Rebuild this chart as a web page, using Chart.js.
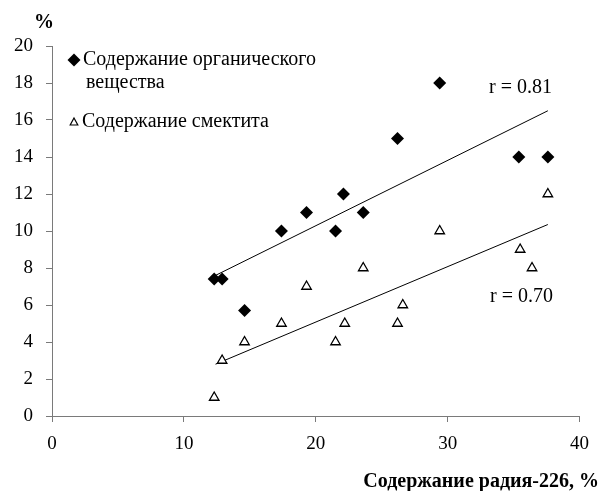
<!DOCTYPE html>
<html>
<head>
<meta charset="utf-8">
<script src="https://cdn.jsdelivr.net/npm/chart.js@4/dist/chart.umd.min.js"></script>
<style>
  html, body { margin: 0; padding: 0; background: #fff; }
  #wrap { width: 600px; height: 491px; position: relative; }
</style>
</head>
<body>
<div id="wrap"><canvas id="chart"></canvas></div>
<script>
// Radium-226 content (x) vs organic matter / smectite content (y)
const organicX = [12.3, 12.9, 14.6, 17.4, 19.3, 21.5, 22.1, 23.6, 26.2, 29.4, 35.4, 37.6];
const organicY = [7.4, 7.4, 5.7, 10, 11, 10, 12, 11, 15, 18, 14, 14];
const smectiteX = [12.3, 12.9, 14.6, 17.4, 19.3, 21.5, 22.2, 23.6, 26.2, 26.6, 29.4, 35.5, 36.4, 37.6];
const smectiteY = [1, 3, 4, 5, 7, 4, 5, 8, 5, 6, 10, 9, 8, 12];

// trend line endpoints
const trendX = [12.4, 37.6];
const organicTrendY = [7.6, 16.5];
const smectiteTrendY = [2.8, 10.35];

const legendLabels = ['Содержание органического', 'вещества', 'Содержание смектита'];
const rLabels = ['r = 0.81', 'r = 0.70'];
const xTitle = 'Содержание радия-226, %';
const yTitle = '%';

const FONT = '"Liberation Serif", "Times New Roman", serif';
const AXIS_COLOR = '#7a7a7a';

const toPoints = (xs, ys) => xs.map((x, i) => ({ x: x, y: ys[i] }));

// texts drawn on top: legend, r values, axis titles
const annotations = {
    id: 'annotations',
    afterDraw(chart) {
        const ctx = chart.ctx;
        ctx.save();
        ctx.fillStyle = '#000';
        ctx.textBaseline = 'middle';

        // legend markers
        ctx.beginPath();
        ctx.moveTo(74, 53.5);
        ctx.lineTo(80.5, 60);
        ctx.lineTo(74, 66.5);
        ctx.lineTo(67.5, 60);
        ctx.closePath();
        ctx.fill();

        ctx.beginPath();
        ctx.moveTo(74, 118);
        ctx.lineTo(77.8, 125);
        ctx.lineTo(70.2, 125);
        ctx.closePath();
        ctx.fillStyle = '#fff';
        ctx.fill();
        ctx.strokeStyle = '#000';
        ctx.lineWidth = 1.2;
        ctx.stroke();

        ctx.fillStyle = '#000';
        ctx.font = '20px ' + FONT;
        ctx.textAlign = 'left';
        ctx.fillText(legendLabels[0], 83, 60);
        ctx.fillText(legendLabels[1], 86, 83);
        ctx.fillText(legendLabels[2], 82, 122);

        ctx.fillText(rLabels[0], 489, 88);
        ctx.fillText(rLabels[1], 490, 297);

        ctx.font = 'bold 20px ' + FONT;
        ctx.textAlign = 'center';
        ctx.fillText(yTitle, 44, 23);
        ctx.textAlign = 'right';
        ctx.fillText(xTitle, 599, 482);
        ctx.restore();
    }
};

new Chart(document.getElementById('chart').getContext('2d'), {
    type: 'scatter',
    data: {
        datasets: [
            {
                label: legendLabels[0],
                data: toPoints(organicX, organicY),
                pointStyle: 'rectRot',
                pointRadius: 6.5,
                backgroundColor: '#000',
                borderColor: '#000',
                borderWidth: 0,
                order: 0
            },
            {
                label: legendLabels[2],
                data: toPoints(smectiteX, smectiteY),
                pointStyle: 'triangle',
                pointRadius: 5.5,
                backgroundColor: '#fff',
                borderColor: '#000',
                borderWidth: 1.3,
                order: 0
            },
            {
                label: 'trend organic',
                data: toPoints(trendX, organicTrendY),
                showLine: true,
                pointRadius: 0,
                borderColor: '#000',
                borderWidth: 1,
                order: 1
            },
            {
                label: 'trend smectite',
                data: toPoints(trendX, smectiteTrendY),
                showLine: true,
                pointRadius: 0,
                borderColor: '#000',
                borderWidth: 1,
                order: 1
            }
        ]
    },
    options: {
        responsive: true,
        maintainAspectRatio: false,
        animation: false,
        events: [],
        layout: {
            padding: { top: 46, right: 18, bottom: 0, left: 0 }
        },
        plugins: {
            legend: { display: false },
            tooltip: { enabled: false }
        },
        scales: {
            x: {
                type: 'linear',
                min: 0,
                max: 40,
                afterFit: (scale) => { scale.height = 75; },
                grid: {
                    drawOnChartArea: false,
                    drawTicks: true,
                    tickLength: 6,
                    color: AXIS_COLOR
                },
                border: { display: true, color: AXIS_COLOR, width: 1 },
                ticks: {
                    stepSize: 10,
                    padding: 11,
                    color: '#000',
                    maxRotation: 0,
                    font: { family: FONT, size: 19 }
                }
            },
            y: {
                type: 'linear',
                min: 0,
                max: 20,
                afterFit: (scale) => { scale.width = 52; },
                grid: {
                    drawOnChartArea: false,
                    drawTicks: true,
                    tickLength: 6,
                    color: AXIS_COLOR
                },
                border: { display: true, color: AXIS_COLOR, width: 1 },
                ticks: {
                    stepSize: 2,
                    padding: 13,
                    color: '#000',
                    font: { family: FONT, size: 19 }
                }
            }
        }
    },
    plugins: [annotations]
});
</script>
</body>
</html>
